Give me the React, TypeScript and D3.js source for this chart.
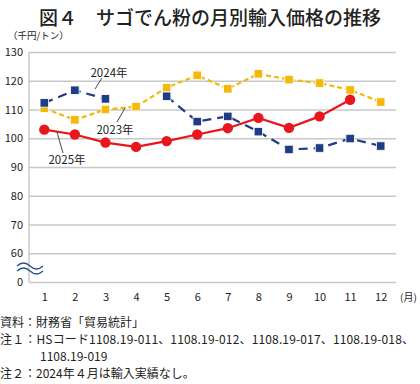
import React from 'react';
import * as d3 from 'd3';

const months = [1, 2, 3, 4, 5, 6, 7, 8, 9, 10, 11, 12];
const yTicks = [50, 60, 70, 80, 90, 100, 110, 120, 130];
const yTickLabels = ['0', '60', '70', '80', '90', '100', '110', '120', '130'];

const values2023 = [110.4, 106.4, 110.0, 111.0, 117.6, 121.9, 117.2, 122.4, 120.4, 119.2, 116.8, 112.6];
const values2024 = [112.3, 116.7, 113.7, null, 114.6, 105.8, 107.6, 102.3, 96.1, 96.6, 99.9, 97.3];
const values2025 = [103.0, 101.3, 98.5, 97.0, 99.0, 101.3, 103.5, 107.1, 103.6, 107.6, 113.4];

const notes = [
  '資料：財務省「貿易統計」',
  '注１：HSコード1108.19-011、1108.19-012、1108.19-017、1108.19-018、',
  '1108.19-019',
  '注２：2024年４月は輸入実績なし。',
];

const FONT = '"Noto Sans CJK JP", "Noto Sans", sans-serif';

const App: React.FC = () => {
  const svgRef = React.useRef<SVGSVGElement>(null);
  const width = 420;
  const height = 384;

  React.useEffect(() => {
    const svg = d3.select(svgRef.current);
    svg.selectAll('*').remove();

    const margin = { left: 29, right: 396, top: 52, bottom: 282 };

    const x = d3
      .scalePoint<number>()
      .domain(months)
      .range([margin.left, margin.right])
      .padding(0.5);
    const y = d3.scaleLinear().domain([50, 130]).range([margin.bottom, margin.top]);

    // title
    svg
      .append('text')
      .attr('x', 210)
      .attr('y', 25)
      .attr('text-anchor', 'middle')
      .attr('font-family', FONT)
      .attr('font-size', 19)
      .attr('font-weight', 500)
      .attr('fill', '#222')
      .text('図４　サゴでん粉の月別輸入価格の推移');

    svg
      .append('text')
      .attr('x', 8)
      .attr('y', 39)
      .attr('font-family', FONT)
      .attr('font-size', 9.5)
      .attr('fill', '#222')
      .text('（千円/トン）');

    // grid lines
    const yAxis = d3
      .axisLeft(y)
      .tickValues(yTicks)
      .tickSize(-(margin.right - margin.left))
      .tickFormat((_, i) => yTickLabels[i]);
    const yg = svg.append('g').attr('transform', `translate(${margin.left},0)`).call(yAxis);
    yg.select('.domain').remove();
    yg.selectAll('line').attr('stroke', '#c8c8c8').attr('stroke-width', 1.4);
    yg.selectAll('text')
      .attr('x', -6)
      .attr('fill', '#222')
      .attr('font-family', FONT)
      .attr('font-size', 11);

    svg
      .append('line')
      .attr('x1', margin.left)
      .attr('x2', margin.left)
      .attr('y1', margin.top)
      .attr('y2', margin.bottom)
      .attr('stroke', '#c8c8c8')
      .attr('stroke-width', 1.4);

    const xAxis = d3.axisBottom(x).tickSize(0).tickPadding(10);
    const xg = svg.append('g').attr('transform', `translate(0,${margin.bottom + 1})`).call(xAxis);
    xg.select('.domain').remove();
    xg.selectAll('text')
      .attr('fill', '#222')
      .attr('font-family', FONT)
      .attr('font-size', 11);

    svg
      .append('text')
      .attr('x', 400)
      .attr('y', 301)
      .attr('font-family', FONT)
      .attr('font-size', 10)
      .attr('fill', '#222')
      .text('(月)');

    // break mark
    const wave = (yy: number) => `M17,${yy} q6.5,-6 13,0 t13,0`;
    [266, 271].forEach((yy) => {
      svg
        .append('path')
        .attr('d', wave(yy))
        .attr('fill', 'none')
        .attr('stroke', '#2a4f8f')
        .attr('stroke-width', 1.3);
    });

    const line = d3
      .line<number | null>()
      .defined((d) => d !== null)
      .x((_, i) => x(months[i]) as number)
      .y((d) => y(d as number));

    const series = [
      { name: '2023', values: values2023, color: '#f5b90c', dash: '5,3', marker: 'square', size: 8.5 },
      { name: '2024', values: values2024, color: '#1f3d84', dash: '9,6', marker: 'square', size: 8.5 },
      { name: '2025', values: values2025, color: '#e8161d', dash: null, marker: 'circle', size: 5.2 },
    ];

    series.forEach((s) => {
      const p = svg
        .append('path')
        .attr('d', line(s.values))
        .attr('fill', 'none')
        .attr('stroke', s.color)
        .attr('stroke-width', 2.2);
      if (s.dash) p.attr('stroke-dasharray', s.dash);

      const pts = s.values
        .map((v, i) => ({ v, m: months[i] }))
        .filter((d) => d.v !== null);
      if (s.marker === 'square') {
        svg
          .append('g')
          .selectAll('rect')
          .data(pts)
          .enter()
          .append('rect')
          .attr('x', (d) => (x(d.m) as number) - s.size / 2)
          .attr('y', (d) => y(d.v as number) - s.size / 2)
          .attr('width', s.size)
          .attr('height', s.size)
          .attr('fill', s.color)
          .attr('stroke', '#fff')
          .attr('stroke-width', 0.8);
      } else {
        svg
          .append('g')
          .selectAll('circle')
          .data(pts)
          .enter()
          .append('circle')
          .attr('cx', (d) => x(d.m) as number)
          .attr('cy', (d) => y(d.v as number))
          .attr('r', s.size)
          .attr('fill', s.color);
      }
    });

    // series labels with leader lines
    const labels = [
      { text: '2024年', tx: 109, ty: 77, l: [102, 78, 95, 89] },
      { text: '2023年', tx: 115, ty: 134, l: [125, 108, 117, 122] },
      { text: '2025年', tx: 67, ty: 164, l: [57, 132, 63, 153] },
    ];
    labels.forEach((lb) => {
      svg
        .append('line')
        .attr('x1', lb.l[0])
        .attr('y1', lb.l[1])
        .attr('x2', lb.l[2])
        .attr('y2', lb.l[3])
        .attr('stroke', '#333')
        .attr('stroke-width', 0.9);
      svg
        .append('text')
        .attr('x', lb.tx)
        .attr('y', lb.ty)
        .attr('text-anchor', 'middle')
        .attr('font-family', FONT)
        .attr('font-size', 11.5)
        .attr('fill', '#222')
        .text(lb.text);
    });

    // notes
    svg
      .append('g')
      .selectAll('text')
      .data(notes)
      .enter()
      .append('text')
      .attr('x', (_, i) => (i === 2 ? 40 : 0))
      .attr('y', (_, i) => 327 + i * 17)
      .attr('font-family', FONT)
      .attr('font-size', 12)
      .attr('fill', '#222')
      .each(function (_, i) {
        if (i === 1) {
          d3.select(this).attr('textLength', 414).attr('lengthAdjust', 'spacing');
        }
      })
      .text((d) => d);
  }, []);

  return (
    <svg
      ref={svgRef}
      width={width}
      height={height}
      style={{ position: 'absolute', left: 0, top: 0, background: '#fff' }}
    />
  );
};

export default App;
